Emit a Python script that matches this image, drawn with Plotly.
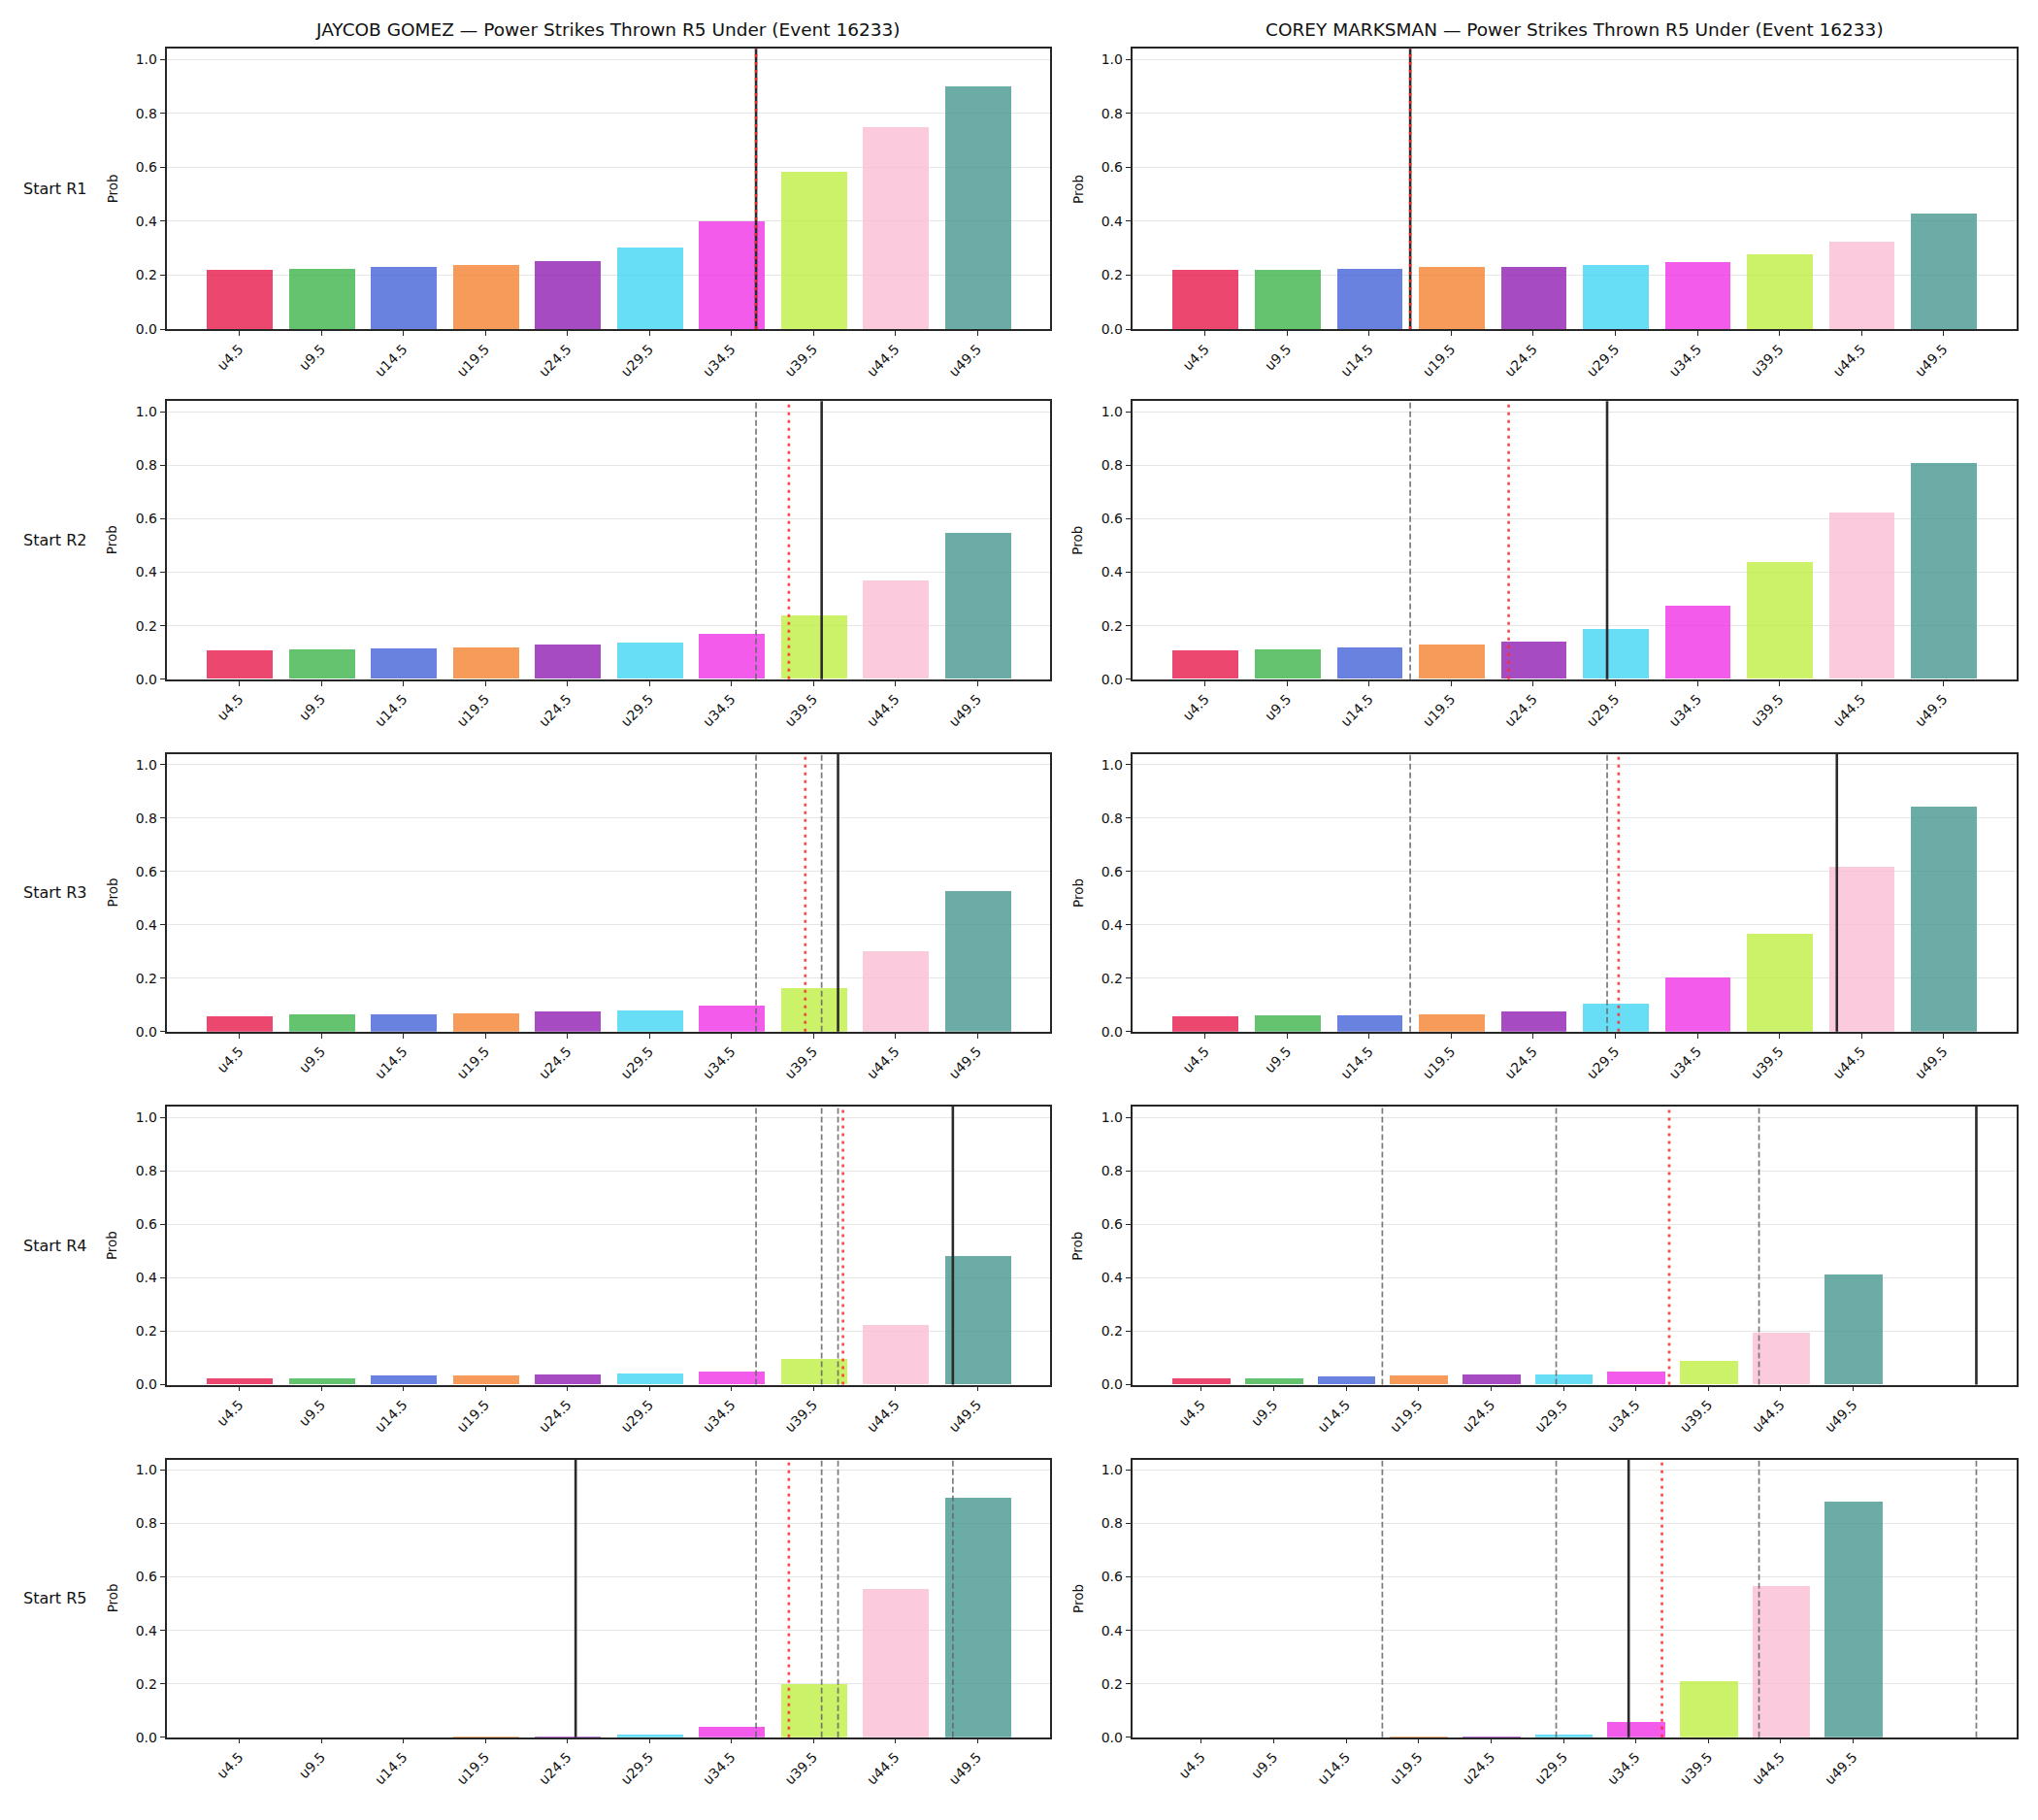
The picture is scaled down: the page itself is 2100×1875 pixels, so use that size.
import plotly.graph_objects as go

# ---------------- data ----------------
categories = ["u4.5", "u9.5", "u14.5", "u19.5", "u24.5", "u29.5", "u34.5", "u39.5", "u44.5", "u49.5"]
thresholds = [4.5, 9.5, 14.5, 19.5, 24.5, 29.5, 34.5, 39.5, 44.5, 49.5]
row_labels = ["Start R1", "Start R2", "Start R3", "Start R4", "Start R5"]

fighter_left = "JAYCOB GOMEZ"
fighter_right = "COREY MARKSMAN"
market = "Power Strikes Thrown R5 Under (Event 16233)"

gomez_r1 = [0.219, 0.223, 0.230, 0.237, 0.253, 0.302, 0.400, 0.581, 0.747, 0.900]
gomez_r2 = [0.107, 0.111, 0.114, 0.119, 0.129, 0.136, 0.169, 0.237, 0.367, 0.545]
gomez_r3 = [0.059, 0.064, 0.064, 0.071, 0.075, 0.081, 0.099, 0.164, 0.302, 0.526]
gomez_r4 = [0.025, 0.025, 0.033, 0.033, 0.039, 0.042, 0.049, 0.096, 0.223, 0.480]
gomez_r5 = [0.0, 0.0, 0.0, 0.001, 0.005, 0.012, 0.041, 0.200, 0.558, 0.899]

marksman_r1 = [0.219, 0.219, 0.223, 0.230, 0.230, 0.237, 0.248, 0.277, 0.324, 0.429]
marksman_r2 = [0.107, 0.111, 0.119, 0.127, 0.141, 0.187, 0.273, 0.436, 0.624, 0.808]
marksman_r3 = [0.059, 0.063, 0.063, 0.066, 0.077, 0.106, 0.204, 0.367, 0.620, 0.844]
marksman_r4 = [0.022, 0.025, 0.029, 0.035, 0.039, 0.039, 0.049, 0.090, 0.194, 0.411]
marksman_r5 = [0.0, 0.0, 0.0, 0.001, 0.002, 0.012, 0.059, 0.211, 0.569, 0.884]

# strike counts marked by vertical lines (solid = current start, dotted = projection)
gomez_current = [36, 40, 41, 48, 25]
gomez_projection = [36, 38, 39, 41.3, 38]
marksman_current = [17, 29, 43, 58, 34]
marksman_projection = [17, 23, 29.7, 36.8, 36.3]

bar_colors = ["#e6194b", "#3cb44b", "#4363d8", "#f58231", "#911eb4",
              "#42d4f4", "#f032e6", "#bfef45", "#fabed4", "#469990"]

gomez_rows = [gomez_r1, gomez_r2, gomez_r3, gomez_r4, gomez_r5]
marksman_rows = [marksman_r1, marksman_r2, marksman_r3, marksman_r4, marksman_r5]

# ---------------- layout geometry (pixels) ----------------
W, H = 2100, 1875
col_x = [(171.5, 1082.4), (1166.5, 2077.9)]
row_y = [(50.5, 340.5), (415.0, 702.7), (780.0, 1067.3), (1145.0, 1432.7), (1510.0, 1797.3)]
FONT = "DejaVu Sans"
SPINE = "#262626"

def to_x(v):
    step = thresholds[1] - thresholds[0]
    return (v - thresholds[0]) / step

fig = go.Figure()
shapes = []
annotations = []
layout_axes = {}

idx = 0
xpos = list(range(len(categories)))
for r in range(5):
    for c in range(2):
        idx += 1
        xa = "x" if idx == 1 else f"x{idx}"
        ya = "y" if idx == 1 else f"y{idx}"
        xkey = "xaxis" if idx == 1 else f"xaxis{idx}"
        ykey = "yaxis" if idx == 1 else f"yaxis{idx}"
        vals = gomez_rows[r] if c == 0 else marksman_rows[r]
        cur = gomez_current if c == 0 else marksman_current
        proj = gomez_projection if c == 0 else marksman_projection

        fig.add_trace(go.Bar(
            x=xpos, y=vals, width=0.8,
            marker=dict(color=bar_colors, opacity=0.8, line=dict(width=0)),
            xaxis=xa, yaxis=ya, showlegend=False, hoverinfo="x+y",
        ))

        prev = [to_x(v) for v in cur[:r]]
        line_x = prev + [to_x(cur[r]), to_x(proj[r])]
        lo = min(-0.4, min(line_x))
        hi = max(len(categories) - 1 + 0.4, max(line_x))
        pad = 0.05 * (hi - lo)

        for px in prev:
            shapes.append(dict(type="line", xref=xa, yref=f"{ya} domain", x0=px, x1=px, y0=0, y1=1,
                               line=dict(color="rgba(100,100,100,0.85)", width=1.7, dash="6px,3px"),
                               layer="above"))
        cx = to_x(cur[r])
        shapes.append(dict(type="line", xref=xa, yref=f"{ya} domain", x0=cx, x1=cx, y0=0, y1=1,
                           line=dict(color="#2b2b2b", width=2.6), layer="above"))
        rx = to_x(proj[r])
        shapes.append(dict(type="line", xref=xa, yref=f"{ya} domain", x0=rx, x1=rx, y0=0, y1=1,
                           line=dict(color="rgba(255,40,40,0.85)", width=2.6, dash="3px,5px"),
                           layer="above"))

        x0p, x1p = col_x[c]
        y0p, y1p = row_y[r]
        layout_axes[xkey] = dict(
            domain=[x0p / W, x1p / W], anchor=ya,
            range=[lo - pad, hi + pad],
            tickmode="array", tickvals=xpos, ticktext=categories, tickangle=-45,
            showgrid=False, zeroline=False,
            showline=True, mirror=True, linecolor=SPINE, linewidth=1.6,
            ticks="outside", ticklen=5, tickwidth=1.2, tickcolor=SPINE,
            tickfont=dict(family=FONT, size=14, color="#111"),
        )
        layout_axes[ykey] = dict(
            domain=[1 - y1p / H, 1 - y0p / H], anchor=xa,
            range=[0, 1.04],
            tickmode="array", tickvals=[0, 0.2, 0.4, 0.6, 0.8, 1.0],
            ticktext=["0.0", "0.2", "0.4", "0.6", "0.8", "1.0"],
            showgrid=True, gridcolor="#e6e6e6", gridwidth=1, zeroline=False,
            showline=True, mirror=True, linecolor=SPINE, linewidth=1.6,
            ticks="outside", ticklen=5, tickwidth=1.2, tickcolor=SPINE,
            tickfont=dict(family=FONT, size=14, color="#111"),
        )

        # y label "Prob"
        lab_x = 115.7 if c == 0 else 1110.3
        annotations.append(dict(text="Prob", x=lab_x / W, y=1 - (y0p + y1p) / 2 / H,
                                xref="paper", yref="paper", showarrow=False, textangle=-90,
                                xanchor="center", yanchor="middle",
                                font=dict(family=FONT, size=13.5, color="#111")))
        if c == 0:
            annotations.append(dict(text=row_labels[r], x=22 / W, y=1 - (y0p + y1p) / 2 / H,
                                    xref="paper", yref="paper", showarrow=False,
                                    xanchor="left", yanchor="middle",
                                    font=dict(family=FONT, size=16, color="#111")))
        if r == 0:
            name = fighter_left if c == 0 else fighter_right
            annotations.append(dict(text=f"{name} \u2014 {market}", x=(x0p + x1p) / 2 / W, y=1 - 31 / H,
                                    xref="paper", yref="paper", showarrow=False,
                                    xanchor="center", yanchor="middle",
                                    font=dict(family=FONT, size=18.5, color="#111")))

fig.update_layout(
    width=W, height=H, margin=dict(l=0, r=0, t=0, b=0),
    paper_bgcolor="white", plot_bgcolor="white",
    font=dict(family=FONT, color="#111"),
    shapes=shapes, annotations=annotations, bargap=0,
    **layout_axes,
)

fig.write_html("out.html")
